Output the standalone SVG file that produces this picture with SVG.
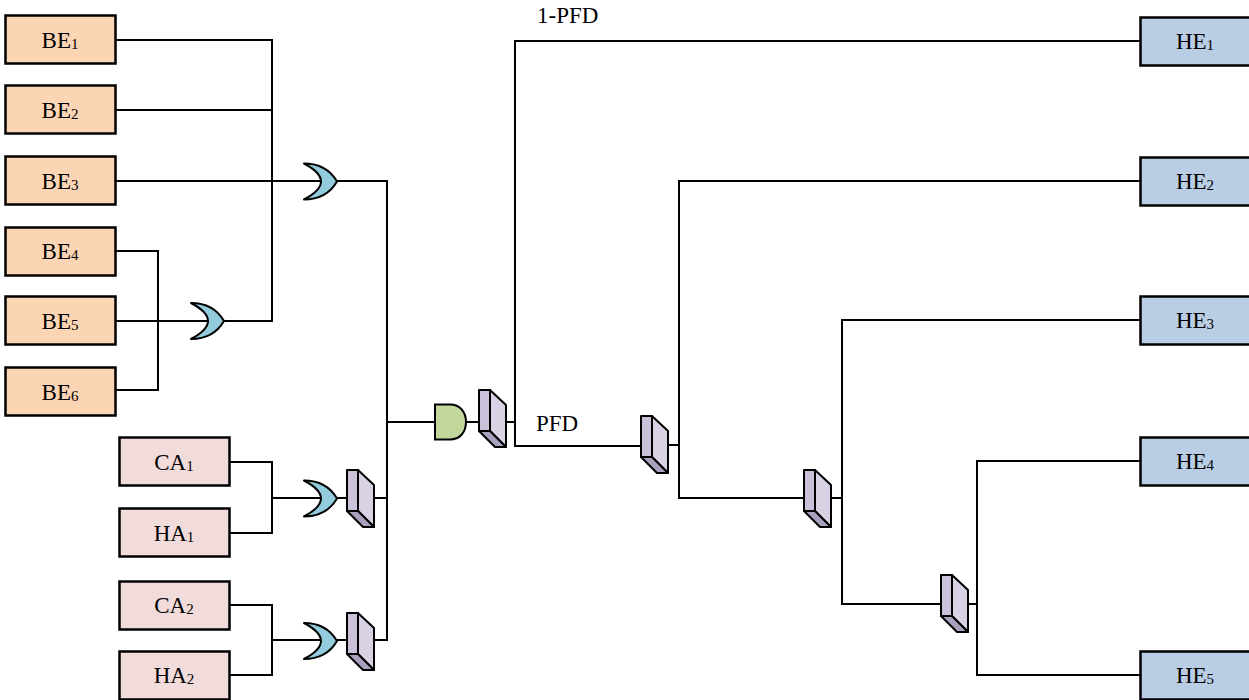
<svg xmlns="http://www.w3.org/2000/svg" width="1249" height="700" viewBox="0 0 1249 700">
<style>
text{font-family:"Liberation Serif","Times New Roman",serif;font-size:23px;fill:#000}
.c{text-anchor:middle}
tspan.s{font-size:15px}
.b{stroke:#000;stroke-width:2.500}
.be{fill:#fcd5b5}.ca{fill:#f2dcdb}.he{fill:#b9cde5}
.or{fill:#93cddd;stroke:#000;stroke-width:2;stroke-linejoin:round}
.and{fill:#c3d69b;stroke:#000;stroke-width:2}
.m1{fill:#ccc1da}.m2{fill:#d9d2e4}.m3{fill:#a9a0bd}
.m{stroke:#000;stroke-width:2;stroke-linejoin:round}
#connectors path{fill:none;stroke:#000;stroke-width:2}
</style>
<defs>
<path id="orgate" class="or" d="M0,-18C14,-18 26,-12 33,0C26,12 14,18 0,18Q34,0 0,-18Z"/>
<g id="mux" class="m">
<path class="m2" d="M11,0L27,15V57L11,41Z"/>
<path class="m3" d="M0,41H11L27,57H16Z"/>
<path class="m1" d="M0,0H11V41H0Z"/>
</g>
</defs>
<g id="connectors">
<path d="M115,40H272V321H224M115,110H272M115,181H321M337,181H387V640H374"/>
<path d="M115,251H158V390H115M115,321H208"/>
<path d="M229,462H272V533H229M272,498H321M337,498H347M374,498H387"/>
<path d="M229,605H272V675H229M272,640H321M337,640H347"/>
<path d="M387,422H435M466,422H479M505,422H515"/>
<path d="M1140,41H515V446H641M667,445H679M1140,181H679V498H804M831,498H842M1140,320H842V604H941M968,604H977M1140,461H977V675H1140"/>
</g>
<g id="BE1"><rect class="b be" x="5.500" y="15.500" width="110" height="48"/><text class="c" x="60" y="48">BE<tspan class="s" dy="1">1</tspan></text></g>
<g id="BE2"><rect class="b be" x="5.500" y="85.500" width="110" height="48"/><text class="c" x="60" y="118">BE<tspan class="s" dy="1">2</tspan></text></g>
<g id="BE3"><rect class="b be" x="5.500" y="156.500" width="110" height="48"/><text class="c" x="60" y="189">BE<tspan class="s" dy="1">3</tspan></text></g>
<g id="BE4"><rect class="b be" x="5.500" y="227.500" width="110" height="48"/><text class="c" x="60" y="259">BE<tspan class="s" dy="1">4</tspan></text></g>
<g id="BE5"><rect class="b be" x="5.500" y="296.500" width="110" height="48"/><text class="c" x="60" y="329">BE<tspan class="s" dy="1">5</tspan></text></g>
<g id="BE6"><rect class="b be" x="5.500" y="367.500" width="110" height="48"/><text class="c" x="60" y="400">BE<tspan class="s" dy="1">6</tspan></text></g>
<g id="CA1"><rect class="b ca" x="119.500" y="437.500" width="110" height="48"/><text class="c" x="174" y="470">CA<tspan class="s" dy="1">1</tspan></text></g>
<g id="HA1"><rect class="b ca" x="119.500" y="508.500" width="110" height="48"/><text class="c" x="174" y="541">HA<tspan class="s" dy="1">1</tspan></text></g>
<g id="CA2"><rect class="b ca" x="119.500" y="581.500" width="110" height="48"/><text class="c" x="174" y="613">CA<tspan class="s" dy="1">2</tspan></text></g>
<g id="HA2"><rect class="b ca" x="119.500" y="651.500" width="110" height="48"/><text class="c" x="174" y="683">HA<tspan class="s" dy="1">2</tspan></text></g>
<g id="HE1"><rect class="b he" x="1140.500" y="17.500" width="110" height="48"/><text class="c" x="1195" y="49">HE<tspan class="s" dy="1">1</tspan></text></g>
<g id="HE2"><rect class="b he" x="1140.500" y="157.500" width="110" height="48"/><text class="c" x="1195" y="189">HE<tspan class="s" dy="1">2</tspan></text></g>
<g id="HE3"><rect class="b he" x="1140.500" y="296.500" width="110" height="48"/><text class="c" x="1195" y="328">HE<tspan class="s" dy="1">3</tspan></text></g>
<g id="HE4"><rect class="b he" x="1140.500" y="437.500" width="110" height="48"/><text class="c" x="1195" y="469">HE<tspan class="s" dy="1">4</tspan></text></g>
<g id="HE5"><rect class="b he" x="1140.500" y="651.500" width="110" height="48"/><text class="c" x="1195" y="683">HE<tspan class="s" dy="1">5</tspan></text></g>
<g id="or1"><use href="#orgate" x="304" y="181.500"/></g>
<g id="or2"><use href="#orgate" x="191" y="321"/></g>
<g id="or3"><use href="#orgate" x="304" y="498.500"/></g>
<g id="or4"><use href="#orgate" x="304" y="641"/></g>
<g id="and1"><path class="and" d="M435,404.500H450C460,404.500 466,412 466,422C466,432 460,439.500 450,439.500H435Z"/></g>
<g id="mux1"><use href="#mux" x="479" y="390"/></g>
<g id="mux2"><use href="#mux" x="347" y="470"/></g>
<g id="mux3"><use href="#mux" x="347" y="613"/></g>
<g id="mux4"><use href="#mux" x="641" y="416"/></g>
<g id="mux5"><use href="#mux" x="804" y="470"/></g>
<g id="mux6"><use href="#mux" x="941" y="575"/></g>
<text id="label-1-pfd" x="537" y="23">1-PFD</text>
<text id="label-pfd" x="536" y="431">PFD</text>
</svg>
